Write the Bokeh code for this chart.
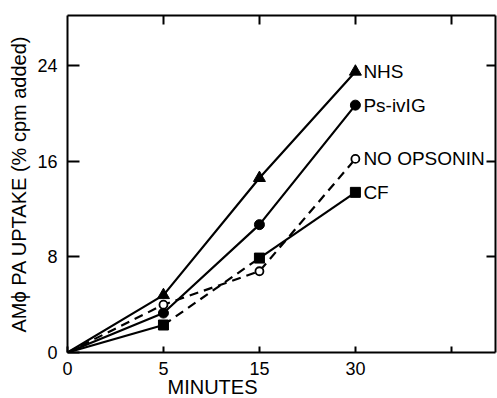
from bokeh.plotting import figure
from bokeh.models import Range1d, FixedTicker, LinearAxis, ColumnDataSource, Title
from bokeh.embed import file_html
from bokeh.resources import INLINE
from bokeh.core.properties import value

# ---- data ----
minutes = ["0", "5", "15", "30"]
xpos = [0, 1, 2, 3]
nhs = [0, 4.8, 14.6, 23.5]
psivig = [0, 3.3, 10.7, 20.7]
no_opsonin = [0, 4.0, 6.8, 16.2]
cf = [0, 2.3, 7.9, 13.4]
names = ["NHS", "Ps-ivIG", "NO OPSONIN", "CF"]
yticks = [0, 8, 16, 24]

FONT = "Liberation Sans"

p = figure(width=497, height=398, output_backend="svg", toolbar_location=None,
           x_range=Range1d(0, 4.46), y_range=Range1d(0, 28.2),
           x_axis_location=None, y_axis_location=None,
           min_border_left=67, min_border_top=15, min_border_right=2, min_border_bottom=46)
p.grid.visible = False
p.outline_line_color = None
p.background_fill_color = "white"
p.border_fill_color = "white"

def style_axis(ax, tick_in):
    ax.axis_line_width = 2
    ax.axis_line_color = "black"
    ax.major_tick_in = tick_in
    ax.major_tick_out = 0
    ax.major_tick_line_width = 2
    ax.minor_tick_line_color = None
    ax.major_label_text_font = FONT
    ax.major_label_text_font_size = "18px"
    ax.major_label_text_color = "black"

# bottom axis
xb = LinearAxis(ticker=FixedTicker(ticks=[0, 1, 2, 3, 4]),
                major_label_overrides={0: minutes[0], 1: minutes[1], 2: minutes[2], 3: minutes[3], 4: ""})
style_axis(xb, 6)
xb.major_label_standoff = 9
p.add_layout(xb, "below")

# top axis (ticks only)
xt = LinearAxis(ticker=FixedTicker(ticks=[1, 2, 3, 4]),
                major_label_overrides={1: "", 2: "", 3: "", 4: ""})
style_axis(xt, 9)
xt.major_label_standoff = 0
p.add_layout(xt, "above")

# left axis
yl = LinearAxis(ticker=FixedTicker(ticks=yticks),
                axis_label="AMϕ PA UPTAKE (% cpm added)")
style_axis(yl, 12)
yl.major_label_standoff = 10
yl.axis_label_text_font = FONT
yl.axis_label_text_font_size = "20px"
yl.axis_label_text_font_style = "normal"
yl.axis_label_text_color = "black"
yl.axis_label_standoff = 4
p.add_layout(yl, "left")

# right axis (ticks only)
yr = LinearAxis(ticker=FixedTicker(ticks=yticks[1:]),
                major_label_overrides={8: "", 16: "", 24: ""})
style_axis(yr, 9)
yr.major_label_standoff = 0
p.add_layout(yr, "right")

LW = 2.2
DASH = "9 6"

# NHS: solid, triangles
p.line(xpos, nhs, line_color="black", line_width=LW)
p.scatter(xpos[1:], nhs[1:], marker="triangle", size=12, fill_color="black", line_color="black")

# Ps-ivIG: solid, filled circles
p.line(xpos, psivig, line_color="black", line_width=LW)
p.scatter(xpos[1:], psivig[1:], marker="circle", size=10, fill_color="black", line_color="black")

# NO OPSONIN: dashed, open circles
p.line(xpos, no_opsonin, line_color="black", line_width=LW, line_dash=DASH)
p.scatter(xpos[1:], no_opsonin[1:], marker="circle", size=8, fill_color="white", line_color="black", line_width=1.8)

# CF: solid / dashed / solid, filled squares
p.line(xpos[0:2], cf[0:2], line_color="black", line_width=LW)
p.line(xpos[1:3], cf[1:3], line_color="black", line_width=LW, line_dash=DASH)
p.line(xpos[2:4], cf[2:4], line_color="black", line_width=LW)
p.scatter(xpos[1:], cf[1:], marker="square", size=10, fill_color="black", line_color="black")

# series labels at the last point
src = ColumnDataSource(dict(x=[xpos[-1]] * 4,
                            y=[nhs[-1], psivig[-1], no_opsonin[-1], cf[-1]],
                            t=names))
p.text(x="x", y="y", text="t", source=src, x_offset=8, text_baseline="middle",
       text_align="left", text_font=value(FONT), text_font_size="19px", text_color="black")

# x-axis title, under the 0..30 span
p.add_layout(Title(text="MINUTES", align="left", offset=100, standoff=-7,
                   text_font=FONT, text_font_size="20px", text_font_style="normal",
                   text_color="black"), "below")

open("out.html", "w").write(file_html(p, INLINE))
